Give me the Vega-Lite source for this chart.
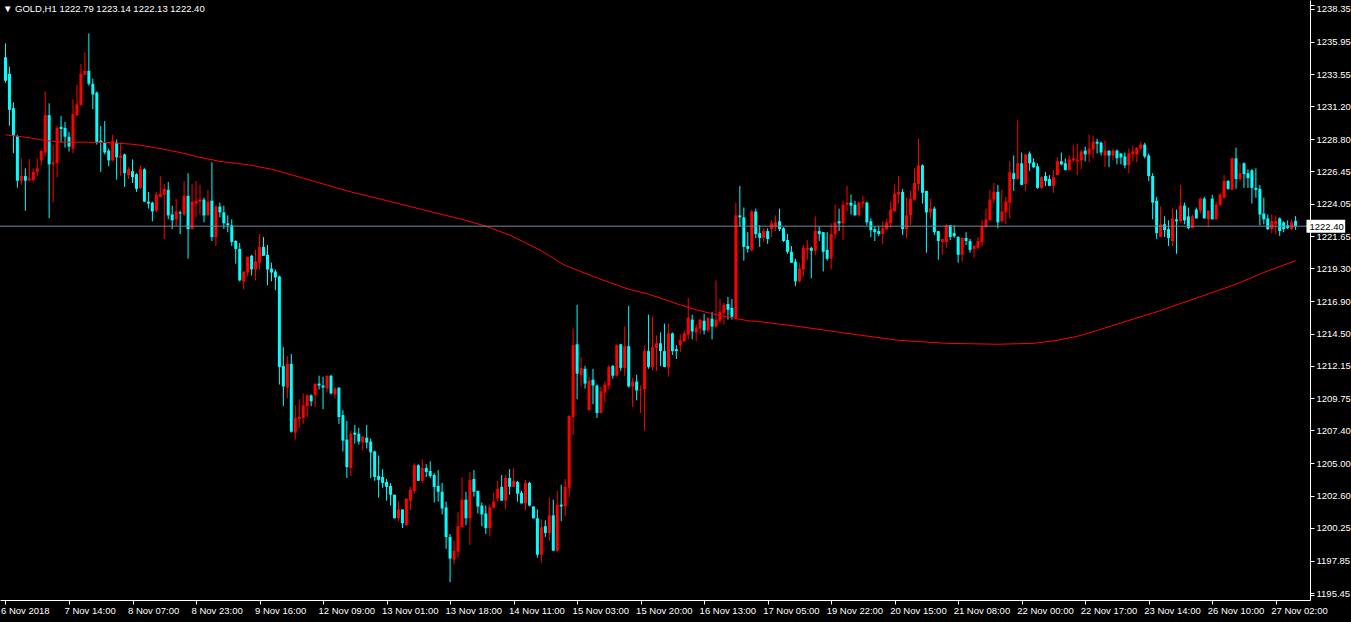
{
  "$schema": "https://vega.github.io/schema/vega-lite/v6.json",
  "width": 1310,
  "height": 600,
  "autosize": {"type": "none"},
  "padding": {"left": 0, "top": 0, "right": 41, "bottom": 22},
  "background": "#000000",
  "config": {"view": {"stroke": null}, "axis": {"labelOverlap": false, "labelFlush": false, "grid": false, "labelBound": false}},
  "title": {"text": "▼ GOLD,H1  1222.79 1223.14 1222.13 1222.40", "anchor": "start", "frame": "group", "offset": 0, "dx": 3, "dy": 21, "baseline": "alphabetic", "font": "Liberation Sans", "fontSize": 9.5, "fontWeight": "normal", "color": "#ffffff"},
  "datasets": {
    "candles": [
{"k":0,"o":1234.81,"h":1235.82,"l":1232.94,"c":1233.08},
{"k":1,"o":1233.59,"h":1234.11,"l":1229.78,"c":1230.94},
{"k":2,"o":1231.06,"h":1231.49,"l":1227.76,"c":1229.02},
{"k":3,"o":1229.02,"h":1229.11,"l":1225.23,"c":1225.74},
{"k":4,"o":1225.74,"h":1227.38,"l":1225.45,"c":1226.08},
{"k":5,"o":1226.08,"h":1226.65,"l":1223.53,"c":1225.74},
{"k":6,"o":1225.77,"h":1227.33,"l":1225.70,"c":1225.90},
{"k":7,"o":1225.79,"h":1226.65,"l":1225.64,"c":1226.37},
{"k":8,"o":1226.37,"h":1227.38,"l":1226.08,"c":1226.65},
{"k":9,"o":1227.23,"h":1227.95,"l":1226.85,"c":1227.95},
{"k":10,"o":1227.81,"h":1232.29,"l":1227.52,"c":1230.55},
{"k":11,"o":1230.55,"h":1231.42,"l":1222.99,"c":1226.94},
{"k":12,"o":1226.94,"h":1228.39,"l":1224.15,"c":1227.09},
{"k":13,"o":1227.04,"h":1229.76,"l":1226.00,"c":1229.62},
{"k":14,"o":1229.69,"h":1230.48,"l":1228.53,"c":1229.54},
{"k":15,"o":1229.62,"h":1230.05,"l":1228.17,"c":1228.97},
{"k":16,"o":1228.97,"h":1229.33,"l":1227.88,"c":1228.24},
{"k":17,"o":1228.10,"h":1231.71,"l":1227.76,"c":1230.63},
{"k":18,"o":1230.55,"h":1232.79,"l":1230.46,"c":1231.35},
{"k":19,"o":1231.28,"h":1234.31,"l":1231.28,"c":1233.59},
{"k":20,"o":1233.51,"h":1235.17,"l":1233.51,"c":1233.80},
{"k":21,"o":1233.80,"h":1236.55,"l":1232.72,"c":1232.86},
{"k":22,"o":1232.86,"h":1233.23,"l":1230.99,"c":1232.07},
{"k":23,"o":1232.21,"h":1232.29,"l":1228.39,"c":1228.53},
{"k":24,"o":1228.68,"h":1229.76,"l":1226.37,"c":1228.53},
{"k":25,"o":1228.53,"h":1230.12,"l":1227.67,"c":1227.81},
{"k":26,"o":1227.95,"h":1228.10,"l":1226.80,"c":1227.23},
{"k":27,"o":1227.23,"h":1229.11,"l":1227.16,"c":1228.68},
{"k":28,"o":1228.53,"h":1228.75,"l":1225.81,"c":1227.45},
{"k":29,"o":1227.40,"h":1228.53,"l":1226.10,"c":1227.59},
{"k":30,"o":1227.67,"h":1227.74,"l":1225.28,"c":1226.29},
{"k":31,"o":1226.15,"h":1226.73,"l":1225.86,"c":1226.58},
{"k":32,"o":1226.44,"h":1227.30,"l":1225.57,"c":1226.00},
{"k":33,"o":1226.22,"h":1226.29,"l":1224.92,"c":1225.14},
{"k":34,"o":1225.21,"h":1226.87,"l":1225.14,"c":1226.58},
{"k":35,"o":1226.58,"h":1226.65,"l":1224.20,"c":1224.20},
{"k":36,"o":1224.20,"h":1224.92,"l":1223.69,"c":1224.06},
{"k":37,"o":1224.13,"h":1224.20,"l":1222.76,"c":1223.48},
{"k":38,"o":1223.55,"h":1224.92,"l":1223.41,"c":1224.71},
{"k":39,"o":1224.56,"h":1226.08,"l":1224.49,"c":1224.78},
{"k":40,"o":1224.71,"h":1225.50,"l":1221.46,"c":1225.14},
{"k":41,"o":1225.07,"h":1225.64,"l":1222.90,"c":1223.19},
{"k":42,"o":1223.26,"h":1223.91,"l":1222.18,"c":1222.83},
{"k":43,"o":1222.90,"h":1224.42,"l":1222.40,"c":1223.48},
{"k":44,"o":1223.41,"h":1223.55,"l":1221.82,"c":1223.33},
{"k":45,"o":1223.26,"h":1225.72,"l":1223.12,"c":1224.63},
{"k":46,"o":1224.63,"h":1226.29,"l":1220.01,"c":1222.18},
{"k":47,"o":1222.18,"h":1225.50,"l":1222.18,"c":1224.20},
{"k":48,"o":1224.06,"h":1225.72,"l":1223.05,"c":1224.27},
{"k":49,"o":1224.20,"h":1225.43,"l":1223.26,"c":1224.35},
{"k":50,"o":1224.35,"h":1224.49,"l":1222.68,"c":1223.19},
{"k":51,"o":1223.19,"h":1225.07,"l":1223.19,"c":1224.20},
{"k":52,"o":1224.27,"h":1227.09,"l":1221.31,"c":1221.60},
{"k":53,"o":1221.60,"h":1223.98,"l":1220.95,"c":1223.84},
{"k":54,"o":1223.84,"h":1224.13,"l":1223.05,"c":1223.41},
{"k":55,"o":1223.41,"h":1223.90,"l":1222.20,"c":1222.61},
{"k":56,"o":1222.61,"h":1223.20,"l":1221.96,"c":1222.47},
{"k":57,"o":1222.47,"h":1222.90,"l":1220.95,"c":1221.24},
{"k":58,"o":1221.31,"h":1221.38,"l":1219.65,"c":1220.73},
{"k":59,"o":1220.73,"h":1221.17,"l":1218.35,"c":1218.42},
{"k":60,"o":1218.35,"h":1219.07,"l":1217.77,"c":1219.07},
{"k":61,"o":1219.00,"h":1220.16,"l":1218.71,"c":1220.16},
{"k":62,"o":1220.23,"h":1220.30,"l":1218.78,"c":1219.22},
{"k":63,"o":1219.22,"h":1220.66,"l":1218.42,"c":1219.80},
{"k":64,"o":1219.72,"h":1221.82,"l":1219.22,"c":1220.88},
{"k":65,"o":1220.88,"h":1221.60,"l":1220.23,"c":1220.23},
{"k":66,"o":1220.30,"h":1221.02,"l":1218.06,"c":1219.22},
{"k":67,"o":1219.29,"h":1219.72,"l":1218.35,"c":1219.00},
{"k":68,"o":1219.07,"h":1219.22,"l":1217.70,"c":1218.64},
{"k":69,"o":1218.71,"h":1218.78,"l":1210.77,"c":1212.07},
{"k":70,"o":1212.14,"h":1213.51,"l":1209.18,"c":1210.63},
{"k":71,"o":1210.55,"h":1212.86,"l":1209.76,"c":1212.29},
{"k":72,"o":1212.29,"h":1213.01,"l":1207.24,"c":1207.31},
{"k":73,"o":1207.24,"h":1209.25,"l":1206.73,"c":1208.32},
{"k":74,"o":1208.24,"h":1209.69,"l":1207.59,"c":1208.39},
{"k":75,"o":1208.32,"h":1210.12,"l":1207.88,"c":1209.25},
{"k":76,"o":1209.18,"h":1210.05,"l":1208.39,"c":1209.98},
{"k":77,"o":1209.98,"h":1210.05,"l":1209.18,"c":1209.54},
{"k":78,"o":1209.98,"h":1210.84,"l":1209.11,"c":1210.84},
{"k":79,"o":1210.84,"h":1211.42,"l":1210.41,"c":1210.70},
{"k":80,"o":1210.70,"h":1211.35,"l":1208.97,"c":1210.55},
{"k":81,"o":1210.48,"h":1211.42,"l":1210.19,"c":1211.42},
{"k":82,"o":1211.42,"h":1211.49,"l":1210.05,"c":1210.12},
{"k":83,"o":1210.05,"h":1210.63,"l":1209.76,"c":1210.48},
{"k":84,"o":1210.55,"h":1210.55,"l":1207.88,"c":1208.39},
{"k":85,"o":1208.53,"h":1208.89,"l":1205.86,"c":1206.66},
{"k":86,"o":1206.73,"h":1208.10,"l":1203.91,"c":1204.71},
{"k":87,"o":1204.64,"h":1207.38,"l":1204.06,"c":1207.16},
{"k":88,"o":1207.24,"h":1207.81,"l":1206.44,"c":1207.09},
{"k":89,"o":1207.16,"h":1207.59,"l":1206.37,"c":1206.58},
{"k":90,"o":1206.51,"h":1207.02,"l":1205.93,"c":1206.94},
{"k":91,"o":1206.87,"h":1207.81,"l":1206.08,"c":1206.51},
{"k":92,"o":1206.58,"h":1206.80,"l":1203.91,"c":1205.79},
{"k":93,"o":1205.86,"h":1205.93,"l":1203.70,"c":1203.98},
{"k":94,"o":1204.06,"h":1205.57,"l":1202.47,"c":1203.77},
{"k":95,"o":1203.98,"h":1204.56,"l":1203.19,"c":1203.55},
{"k":96,"o":1203.62,"h":1203.84,"l":1202.25,"c":1203.26},
{"k":97,"o":1203.33,"h":1203.55,"l":1201.89,"c":1202.68},
{"k":98,"o":1202.68,"h":1202.68,"l":1200.95,"c":1200.95},
{"k":99,"o":1200.95,"h":1202.18,"l":1200.74,"c":1201.60},
{"k":100,"o":1201.60,"h":1201.60,"l":1200.23,"c":1200.59},
{"k":101,"o":1200.45,"h":1202.40,"l":1200.37,"c":1202.40},
{"k":102,"o":1202.25,"h":1203.26,"l":1201.53,"c":1203.05},
{"k":103,"o":1202.97,"h":1205.00,"l":1202.76,"c":1204.85},
{"k":104,"o":1204.85,"h":1204.92,"l":1203.70,"c":1203.70},
{"k":105,"o":1203.70,"h":1205.28,"l":1203.55,"c":1204.64},
{"k":106,"o":1204.64,"h":1204.92,"l":1203.98,"c":1204.35},
{"k":107,"o":1204.42,"h":1205.14,"l":1203.91,"c":1204.06},
{"k":108,"o":1204.13,"h":1204.27,"l":1202.11,"c":1203.26},
{"k":109,"o":1203.33,"h":1204.49,"l":1202.18,"c":1202.90},
{"k":110,"o":1202.90,"h":1203.55,"l":1201.24,"c":1201.67},
{"k":111,"o":1201.75,"h":1202.18,"l":1198.71,"c":1199.58},
{"k":112,"o":1199.58,"h":1199.80,"l":1196.26,"c":1197.99},
{"k":113,"o":1197.92,"h":1199.29,"l":1197.56,"c":1198.57},
{"k":114,"o":1198.50,"h":1201.39,"l":1198.06,"c":1200.37},
{"k":115,"o":1200.30,"h":1203.98,"l":1200.30,"c":1202.32},
{"k":116,"o":1202.32,"h":1202.90,"l":1200.45,"c":1200.95},
{"k":117,"o":1200.95,"h":1204.35,"l":1199.00,"c":1203.77},
{"k":118,"o":1203.84,"h":1204.49,"l":1202.54,"c":1202.90},
{"k":119,"o":1202.97,"h":1202.97,"l":1201.31,"c":1201.82},
{"k":120,"o":1201.89,"h":1202.11,"l":1200.37,"c":1201.24},
{"k":121,"o":1201.31,"h":1201.89,"l":1199.80,"c":1200.23},
{"k":122,"o":1200.23,"h":1201.96,"l":1199.65,"c":1201.75},
{"k":123,"o":1201.75,"h":1202.83,"l":1201.67,"c":1202.18},
{"k":124,"o":1202.40,"h":1203.70,"l":1202.18,"c":1203.12},
{"k":125,"o":1203.26,"h":1204.13,"l":1202.25,"c":1202.25},
{"k":126,"o":1202.25,"h":1204.13,"l":1201.60,"c":1203.91},
{"k":127,"o":1203.91,"h":1204.56,"l":1202.68,"c":1203.26},
{"k":128,"o":1203.26,"h":1204.64,"l":1203.26,"c":1203.70},
{"k":129,"o":1203.62,"h":1203.70,"l":1202.18,"c":1202.76},
{"k":130,"o":1202.83,"h":1202.97,"l":1202.04,"c":1202.04},
{"k":131,"o":1202.04,"h":1203.77,"l":1201.53,"c":1203.55},
{"k":132,"o":1203.55,"h":1203.62,"l":1201.82,"c":1201.89},
{"k":133,"o":1201.82,"h":1201.82,"l":1200.95,"c":1200.95},
{"k":134,"o":1200.95,"h":1201.60,"l":1198.06,"c":1198.28},
{"k":135,"o":1198.28,"h":1200.88,"l":1197.70,"c":1200.30},
{"k":136,"o":1200.37,"h":1200.81,"l":1199.58,"c":1199.87},
{"k":137,"o":1199.87,"h":1202.47,"l":1199.29,"c":1201.17},
{"k":138,"o":1201.17,"h":1202.32,"l":1198.57,"c":1198.57},
{"k":139,"o":1198.57,"h":1202.97,"l":1198.50,"c":1201.96},
{"k":140,"o":1201.96,"h":1203.41,"l":1200.74,"c":1201.82},
{"k":141,"o":1201.82,"h":1203.84,"l":1201.10,"c":1203.26},
{"k":142,"o":1203.19,"h":1208.53,"l":1202.47,"c":1208.46},
{"k":143,"o":1208.39,"h":1214.89,"l":1207.09,"c":1213.66},
{"k":144,"o":1213.73,"h":1216.62,"l":1209.69,"c":1211.57},
{"k":145,"o":1211.49,"h":1212.79,"l":1210.63,"c":1212.00},
{"k":146,"o":1211.93,"h":1212.14,"l":1210.48,"c":1210.84},
{"k":147,"o":1208.89,"h":1211.35,"l":1208.89,"c":1211.06},
{"k":148,"o":1211.13,"h":1211.93,"l":1209.33,"c":1210.70},
{"k":149,"o":1210.70,"h":1210.77,"l":1208.32,"c":1208.68},
{"k":150,"o":1208.68,"h":1210.63,"l":1208.68,"c":1210.27},
{"k":151,"o":1210.19,"h":1210.99,"l":1209.47,"c":1210.77},
{"k":152,"o":1210.70,"h":1212.21,"l":1210.41,"c":1212.07},
{"k":153,"o":1212.14,"h":1212.21,"l":1211.20,"c":1211.42},
{"k":154,"o":1211.42,"h":1213.73,"l":1211.42,"c":1213.66},
{"k":155,"o":1213.73,"h":1213.73,"l":1211.78,"c":1212.00},
{"k":156,"o":1212.00,"h":1215.03,"l":1211.42,"c":1213.59},
{"k":157,"o":1213.59,"h":1216.55,"l":1210.55,"c":1210.63},
{"k":158,"o":1210.63,"h":1211.28,"l":1209.11,"c":1210.99},
{"k":159,"o":1210.99,"h":1211.49,"l":1209.62,"c":1210.34},
{"k":160,"o":1210.34,"h":1210.70,"l":1208.68,"c":1210.41},
{"k":161,"o":1210.41,"h":1213.66,"l":1207.38,"c":1213.23},
{"k":162,"o":1213.23,"h":1215.90,"l":1211.93,"c":1212.07},
{"k":163,"o":1212.07,"h":1215.75,"l":1211.78,"c":1213.51},
{"k":164,"o":1213.44,"h":1214.38,"l":1211.78,"c":1213.80},
{"k":165,"o":1213.80,"h":1214.60,"l":1212.14,"c":1213.23},
{"k":166,"o":1213.23,"h":1215.25,"l":1212.07,"c":1212.07},
{"k":167,"o":1212.07,"h":1215.25,"l":1211.35,"c":1214.53},
{"k":168,"o":1214.53,"h":1214.60,"l":1212.94,"c":1213.23},
{"k":169,"o":1213.37,"h":1213.66,"l":1212.65,"c":1213.23},
{"k":170,"o":1213.66,"h":1214.45,"l":1213.15,"c":1214.02},
{"k":171,"o":1213.95,"h":1214.74,"l":1213.88,"c":1214.53},
{"k":172,"o":1214.45,"h":1217.12,"l":1214.09,"c":1215.68},
{"k":173,"o":1215.54,"h":1215.90,"l":1214.09,"c":1214.67},
{"k":174,"o":1214.60,"h":1215.18,"l":1213.95,"c":1214.96},
{"k":175,"o":1214.89,"h":1215.54,"l":1214.45,"c":1215.54},
{"k":176,"o":1215.46,"h":1215.97,"l":1214.45,"c":1214.74},
{"k":177,"o":1214.74,"h":1215.68,"l":1214.60,"c":1215.68},
{"k":178,"o":1215.61,"h":1216.11,"l":1214.09,"c":1215.03},
{"k":179,"o":1215.03,"h":1218.42,"l":1214.96,"c":1215.54},
{"k":180,"o":1215.46,"h":1217.05,"l":1215.25,"c":1216.11},
{"k":181,"o":1216.04,"h":1216.76,"l":1215.18,"c":1216.62},
{"k":182,"o":1216.69,"h":1217.20,"l":1215.54,"c":1216.26},
{"k":183,"o":1216.40,"h":1217.05,"l":1215.54,"c":1215.75},
{"k":184,"o":1215.68,"h":1224.13,"l":1215.61,"c":1223.19},
{"k":185,"o":1223.19,"h":1225.36,"l":1222.40,"c":1223.05},
{"k":186,"o":1223.05,"h":1223.77,"l":1219.87,"c":1220.88},
{"k":187,"o":1220.95,"h":1221.96,"l":1220.45,"c":1220.73},
{"k":188,"o":1220.66,"h":1223.62,"l":1220.52,"c":1223.48},
{"k":189,"o":1223.48,"h":1223.69,"l":1221.53,"c":1221.82},
{"k":190,"o":1221.89,"h":1222.47,"l":1220.88,"c":1221.53},
{"k":191,"o":1221.53,"h":1222.25,"l":1221.24,"c":1222.04},
{"k":192,"o":1222.04,"h":1222.25,"l":1221.10,"c":1221.46},
{"k":193,"o":1222.18,"h":1222.83,"l":1221.60,"c":1222.61},
{"k":194,"o":1222.40,"h":1223.19,"l":1222.04,"c":1222.68},
{"k":195,"o":1222.76,"h":1223.69,"l":1222.04,"c":1222.18},
{"k":196,"o":1222.25,"h":1222.32,"l":1221.24,"c":1221.31},
{"k":197,"o":1221.38,"h":1221.82,"l":1220.37,"c":1220.52},
{"k":198,"o":1220.52,"h":1220.95,"l":1219.72,"c":1219.72},
{"k":199,"o":1219.80,"h":1220.01,"l":1217.99,"c":1218.35},
{"k":200,"o":1218.35,"h":1219.72,"l":1218.28,"c":1219.29},
{"k":201,"o":1219.22,"h":1221.02,"l":1218.71,"c":1220.81},
{"k":202,"o":1220.66,"h":1221.38,"l":1219.94,"c":1220.81},
{"k":203,"o":1220.81,"h":1220.88,"l":1218.57,"c":1220.59},
{"k":204,"o":1220.59,"h":1223.12,"l":1220.30,"c":1222.04},
{"k":205,"o":1222.04,"h":1222.40,"l":1221.31,"c":1221.82},
{"k":206,"o":1221.96,"h":1221.96,"l":1219.07,"c":1220.52},
{"k":207,"o":1220.66,"h":1221.96,"l":1219.87,"c":1220.01},
{"k":208,"o":1220.01,"h":1222.61,"l":1219.22,"c":1221.82},
{"k":209,"o":1221.82,"h":1223.98,"l":1221.46,"c":1222.68},
{"k":210,"o":1222.76,"h":1223.69,"l":1222.04,"c":1222.61},
{"k":211,"o":1222.61,"h":1224.27,"l":1221.38,"c":1223.98},
{"k":212,"o":1223.98,"h":1225.36,"l":1223.48,"c":1224.13},
{"k":213,"o":1224.13,"h":1224.71,"l":1223.26,"c":1223.91},
{"k":214,"o":1223.98,"h":1224.27,"l":1223.19,"c":1223.19},
{"k":215,"o":1223.19,"h":1224.20,"l":1223.19,"c":1224.13},
{"k":216,"o":1224.06,"h":1224.63,"l":1223.77,"c":1224.20},
{"k":217,"o":1224.13,"h":1224.20,"l":1222.47,"c":1222.68},
{"k":218,"o":1222.76,"h":1222.97,"l":1221.60,"c":1222.11},
{"k":219,"o":1222.18,"h":1222.40,"l":1221.31,"c":1221.96},
{"k":220,"o":1222.04,"h":1222.40,"l":1221.67,"c":1221.82},
{"k":221,"o":1221.82,"h":1222.76,"l":1221.10,"c":1222.25},
{"k":222,"o":1222.18,"h":1222.97,"l":1222.11,"c":1222.68},
{"k":223,"o":1222.61,"h":1224.20,"l":1222.32,"c":1223.62},
{"k":224,"o":1223.48,"h":1225.50,"l":1223.48,"c":1224.78},
{"k":225,"o":1224.71,"h":1226.08,"l":1224.06,"c":1224.92},
{"k":226,"o":1224.92,"h":1225.14,"l":1221.75,"c":1222.18},
{"k":227,"o":1222.18,"h":1224.49,"l":1221.53,"c":1223.19},
{"k":228,"o":1223.19,"h":1224.99,"l":1222.47,"c":1224.42},
{"k":229,"o":1224.35,"h":1226.65,"l":1224.27,"c":1225.57},
{"k":230,"o":1225.50,"h":1228.82,"l":1224.99,"c":1226.87},
{"k":231,"o":1226.87,"h":1226.94,"l":1224.06,"c":1224.85},
{"k":232,"o":1224.99,"h":1224.99,"l":1220.45,"c":1223.41},
{"k":233,"o":1223.41,"h":1224.42,"l":1222.97,"c":1223.69},
{"k":234,"o":1223.69,"h":1223.84,"l":1221.75,"c":1221.96},
{"k":235,"o":1222.04,"h":1222.04,"l":1219.94,"c":1221.31},
{"k":236,"o":1221.24,"h":1221.46,"l":1220.30,"c":1221.46},
{"k":237,"o":1221.24,"h":1222.54,"l":1220.81,"c":1222.47},
{"k":238,"o":1222.47,"h":1222.47,"l":1221.38,"c":1221.60},
{"k":239,"o":1221.89,"h":1222.47,"l":1221.53,"c":1221.67},
{"k":240,"o":1221.60,"h":1221.67,"l":1219.72,"c":1220.30},
{"k":241,"o":1220.30,"h":1221.60,"l":1219.80,"c":1221.53},
{"k":242,"o":1221.53,"h":1221.96,"l":1221.02,"c":1221.31},
{"k":243,"o":1221.31,"h":1221.46,"l":1220.45,"c":1220.66},
{"k":244,"o":1220.73,"h":1221.02,"l":1220.08,"c":1220.95},
{"k":245,"o":1220.81,"h":1221.60,"l":1220.66,"c":1221.31},
{"k":246,"o":1221.24,"h":1222.83,"l":1220.88,"c":1222.40},
{"k":247,"o":1222.32,"h":1223.69,"l":1222.32,"c":1222.90},
{"k":248,"o":1222.83,"h":1225.07,"l":1222.83,"c":1224.35},
{"k":249,"o":1224.35,"h":1225.57,"l":1224.06,"c":1224.92},
{"k":250,"o":1224.92,"h":1225.43,"l":1222.25,"c":1222.68},
{"k":251,"o":1222.76,"h":1225.07,"l":1222.61,"c":1223.48},
{"k":252,"o":1223.41,"h":1224.56,"l":1222.54,"c":1224.20},
{"k":253,"o":1224.13,"h":1227.16,"l":1222.97,"c":1226.37},
{"k":254,"o":1226.29,"h":1227.59,"l":1224.99,"c":1225.86},
{"k":255,"o":1225.86,"h":1230.19,"l":1225.79,"c":1227.02},
{"k":256,"o":1227.02,"h":1227.81,"l":1225.43,"c":1225.43},
{"k":257,"o":1225.50,"h":1227.67,"l":1224.99,"c":1227.67},
{"k":258,"o":1227.74,"h":1227.88,"l":1226.44,"c":1227.02},
{"k":259,"o":1227.09,"h":1227.38,"l":1226.65,"c":1226.73},
{"k":260,"o":1226.80,"h":1227.02,"l":1225.14,"c":1225.21},
{"k":261,"o":1225.21,"h":1226.08,"l":1225.14,"c":1226.00},
{"k":262,"o":1226.08,"h":1226.37,"l":1225.36,"c":1225.72},
{"k":263,"o":1225.86,"h":1226.15,"l":1225.36,"c":1225.36},
{"k":264,"o":1225.36,"h":1226.51,"l":1224.85,"c":1226.00},
{"k":265,"o":1226.15,"h":1227.45,"l":1226.15,"c":1227.16},
{"k":266,"o":1227.16,"h":1227.81,"l":1226.87,"c":1226.94},
{"k":267,"o":1227.02,"h":1227.38,"l":1226.51,"c":1226.51},
{"k":268,"o":1226.51,"h":1227.59,"l":1226.51,"c":1227.30},
{"k":269,"o":1227.23,"h":1228.39,"l":1227.09,"c":1227.38},
{"k":270,"o":1227.16,"h":1228.46,"l":1226.15,"c":1227.30},
{"k":271,"o":1227.23,"h":1228.03,"l":1226.58,"c":1227.88},
{"k":272,"o":1227.95,"h":1228.24,"l":1227.16,"c":1227.67},
{"k":273,"o":1227.67,"h":1229.11,"l":1227.09,"c":1228.10},
{"k":274,"o":1228.03,"h":1229.04,"l":1227.38,"c":1228.60},
{"k":275,"o":1228.60,"h":1228.82,"l":1227.74,"c":1228.46},
{"k":276,"o":1228.53,"h":1228.60,"l":1227.59,"c":1227.81},
{"k":277,"o":1227.59,"h":1228.68,"l":1226.73,"c":1227.95},
{"k":278,"o":1227.95,"h":1227.95,"l":1226.73,"c":1227.59},
{"k":279,"o":1227.59,"h":1228.10,"l":1227.23,"c":1227.95},
{"k":280,"o":1227.95,"h":1228.03,"l":1226.94,"c":1227.38},
{"k":281,"o":1227.74,"h":1227.74,"l":1226.94,"c":1227.45},
{"k":282,"o":1227.52,"h":1227.81,"l":1226.65,"c":1226.87},
{"k":283,"o":1226.87,"h":1228.10,"l":1226.29,"c":1227.74},
{"k":284,"o":1227.67,"h":1228.31,"l":1227.16,"c":1227.88},
{"k":285,"o":1227.67,"h":1228.17,"l":1227.09,"c":1228.17},
{"k":286,"o":1228.10,"h":1228.60,"l":1228.03,"c":1228.39},
{"k":287,"o":1228.39,"h":1228.53,"l":1227.38,"c":1227.52},
{"k":288,"o":1227.59,"h":1227.74,"l":1225.72,"c":1226.08},
{"k":289,"o":1226.08,"h":1226.29,"l":1222.90,"c":1224.13},
{"k":290,"o":1224.27,"h":1224.56,"l":1221.46,"c":1221.89},
{"k":291,"o":1221.60,"h":1223.84,"l":1221.60,"c":1222.54},
{"k":292,"o":1222.54,"h":1223.12,"l":1221.60,"c":1222.11},
{"k":293,"o":1222.18,"h":1222.83,"l":1220.95,"c":1221.53},
{"k":294,"o":1221.31,"h":1223.69,"l":1220.95,"c":1222.97},
{"k":295,"o":1222.90,"h":1223.62,"l":1220.37,"c":1222.76},
{"k":296,"o":1222.76,"h":1225.43,"l":1222.68,"c":1223.91},
{"k":297,"o":1223.91,"h":1224.13,"l":1222.54,"c":1222.83},
{"k":298,"o":1223.12,"h":1223.77,"l":1222.18,"c":1222.25},
{"k":299,"o":1222.25,"h":1223.26,"l":1222.25,"c":1223.12},
{"k":300,"o":1223.62,"h":1223.77,"l":1222.97,"c":1222.97},
{"k":301,"o":1223.55,"h":1224.49,"l":1223.33,"c":1224.42},
{"k":302,"o":1224.42,"h":1224.56,"l":1222.97,"c":1222.97},
{"k":303,"o":1222.90,"h":1223.55,"l":1222.32,"c":1223.55},
{"k":304,"o":1224.42,"h":1224.71,"l":1222.90,"c":1222.90},
{"k":305,"o":1222.90,"h":1224.20,"l":1222.90,"c":1223.98},
{"k":306,"o":1223.98,"h":1224.85,"l":1223.84,"c":1224.71},
{"k":307,"o":1224.49,"h":1226.15,"l":1224.42,"c":1225.72},
{"k":308,"o":1225.72,"h":1225.79,"l":1225.07,"c":1225.14},
{"k":309,"o":1225.07,"h":1227.45,"l":1225.07,"c":1227.38},
{"k":310,"o":1227.38,"h":1228.17,"l":1225.14,"c":1225.86},
{"k":311,"o":1225.86,"h":1227.02,"l":1225.72,"c":1226.29},
{"k":312,"o":1227.02,"h":1227.09,"l":1225.21,"c":1226.22},
{"k":313,"o":1226.29,"h":1226.58,"l":1225.21,"c":1225.93},
{"k":314,"o":1226.51,"h":1226.58,"l":1224.06,"c":1225.21},
{"k":315,"o":1225.21,"h":1226.65,"l":1224.49,"c":1225.07},
{"k":316,"o":1225.14,"h":1225.43,"l":1222.47,"c":1223.26},
{"k":317,"o":1223.33,"h":1224.49,"l":1222.54,"c":1222.90},
{"k":318,"o":1222.97,"h":1223.26,"l":1222.11,"c":1222.18},
{"k":319,"o":1222.18,"h":1223.26,"l":1221.89,"c":1222.76},
{"k":320,"o":1222.54,"h":1223.19,"l":1221.82,"c":1222.76},
{"k":321,"o":1222.97,"h":1223.05,"l":1221.67,"c":1222.04},
{"k":322,"o":1222.68,"h":1222.76,"l":1221.96,"c":1222.18},
{"k":323,"o":1222.47,"h":1222.83,"l":1222.18,"c":1222.25},
{"k":324,"o":1222.18,"h":1222.90,"l":1222.11,"c":1222.68},
{"k":325,"o":1222.79,"h":1223.14,"l":1222.13,"c":1222.40}
    ],
    "ma": [
{"k":0,"ma":1229.11},{"k":4,"ma":1228.97},{"k":6,"ma":1228.89},{"k":8,"ma":1228.79},{"k":10,"ma":1228.68},
{"k":14,"ma":1228.57},{"k":20,"ma":1228.57},{"k":27,"ma":1228.53},{"k":33,"ma":1228.39},{"k":39,"ma":1228.10},
{"k":44,"ma":1227.81},{"k":49,"ma":1227.45},{"k":54,"ma":1227.16},{"k":62,"ma":1226.87},{"k":67,"ma":1226.58},
{"k":75,"ma":1225.93},{"k":80,"ma":1225.50},{"k":87,"ma":1224.92},{"k":95,"ma":1224.35},{"k":105,"ma":1223.62},
{"k":115,"ma":1222.90},{"k":121,"ma":1222.40},{"k":127,"ma":1221.75},{"k":135,"ma":1220.59},{"k":141,"ma":1219.51},
{"k":150,"ma":1218.50},{"k":157,"ma":1217.77},{"k":162,"ma":1217.41},{"k":170,"ma":1216.62},{"k":174,"ma":1216.26},
{"k":179,"ma":1215.90},{"k":183,"ma":1215.68},{"k":187,"ma":1215.46},{"k":190,"ma":1215.39},{"k":200,"ma":1215.03},
{"k":212,"ma":1214.53},{"k":225,"ma":1214.02},{"k":237,"ma":1213.80},{"k":250,"ma":1213.73},{"k":259,"ma":1213.80},
{"k":265,"ma":1214.02},{"k":270,"ma":1214.31},{"k":275,"ma":1214.74},{"k":282,"ma":1215.39},{"k":290,"ma":1216.11},
{"k":300,"ma":1217.12},{"k":310,"ma":1218.14},{"k":317,"ma":1219.00},{"k":325,"ma":1219.87}
    ],
    "bid": [{"p": 1222.40}]
  },
  "layer": [
    {
      "data": {"name": "candles"},
      "mark": {"type": "rule", "strokeWidth": 1},
      "encoding": {
        "x": {"field": "k", "type": "quantitative", "scale": {"domain": [-0.125, 327.375], "nice": false, "zero": false},
          "axis": {"orient": "bottom", "values": [0,16,32,48,64,80,96,112,128,144,160,176,192,208,224,240,256,272,288,304,320],
            "labelExpr": "['6 Nov 2018','7 Nov 14:00','8 Nov 07:00','8 Nov 23:00','9 Nov 16:00','12 Nov 09:00','13 Nov 01:00','13 Nov 18:00','14 Nov 11:00','15 Nov 03:00','15 Nov 20:00','16 Nov 13:00','17 Nov 05:00','19 Nov 22:00','20 Nov 15:00','21 Nov 08:00','22 Nov 00:00','22 Nov 17:00','23 Nov 14:00','26 Nov 10:00','27 Nov 02:00'][round(datum.value/16)]",
            "title": null, "grid": false, "domainColor": "#ffffff", "tickColor": "#ffffff", "tickSize": 4, "tickCount": 40,
            "labelColor": "#ffffff", "labelFont": "Liberation Sans", "labelFontSize": 9.5, "labelPadding": 1, "labelOffset": -5,
            "labelAlign": "left", "labelFlush": false, "labelOverlap": false}},
        "y": {"field": "l", "type": "quantitative", "scale": {"domain": [1195.32, 1238.64], "nice": false, "zero": false},
          "axis": {"orient": "right", "values": [1238.61,1238.35,1235.95,1233.55,1231.20,1228.80,1226.45,1224.05,1221.65,1219.30,1216.90,1214.50,1212.15,1209.75,1207.40,1205.00,1202.60,1200.25,1197.85,1195.45,1195.34],
            "labelExpr": "(datum.value > 1238.5 || datum.value < 1195.4) ? '' : format(datum.value, '.2f')",
            "title": null, "grid": false, "domainColor": "#ffffff", "tickColor": "#ffffff", "tickSize": 4, "tickCount": 40,
            "labelColor": "#ffffff", "labelFont": "Liberation Sans", "labelFontSize": 9.5, "labelPadding": 2,
            "labelAlign": "left", "labelBaseline": "middle", "labelFlush": false, "labelOverlap": false}},
        "y2": {"field": "h"},
        "color": {"condition": {"test": "datum.c > datum.o", "value": "#ff0000"}, "value": "#00ffff"}
      }
    },
    {
      "data": {"name": "candles"},
      "mark": {"type": "bar", "size": 3},
      "encoding": {
        "x": {"field": "k", "type": "quantitative", "title": null},
        "y": {"field": "o", "type": "quantitative", "title": null},
        "y2": {"field": "c"},
        "color": {"condition": {"test": "datum.c > datum.o", "value": "#ff0000"}, "value": "#00ffff"}
      }
    },
    {
      "data": {"name": "ma"},
      "mark": {"type": "line", "color": "#ff0000", "strokeWidth": 1},
      "encoding": {
        "x": {"field": "k", "type": "quantitative", "title": null},
        "y": {"field": "ma", "type": "quantitative", "title": null}
      }
    },
    {
      "data": {"name": "bid"},
      "mark": {"type": "rule", "color": "#778899", "strokeWidth": 1},
      "encoding": {
        "y": {"field": "p", "type": "quantitative", "title": null}
      }
    },
    {
      "data": {"name": "bid"},
      "mark": {"type": "bar", "orient": "horizontal", "color": "#ffffff", "size": 13},
      "encoding": {
        "x": {"datum": 327.75, "type": "quantitative", "title": null},
        "x2": {"datum": 337.5},
        "y": {"field": "p", "type": "quantitative", "title": null}
      }
    },
    {
      "data": {"name": "bid"},
      "mark": {"type": "text", "color": "#000000", "align": "left", "baseline": "middle", "font": "Liberation Sans", "fontSize": 9.5, "dy": 1},
      "encoding": {
        "x": {"datum": 328.5, "type": "quantitative", "title": null},
        "y": {"field": "p", "type": "quantitative", "title": null},
        "text": {"field": "p", "type": "quantitative", "format": ".2f"}
      }
    }
  ]
}
